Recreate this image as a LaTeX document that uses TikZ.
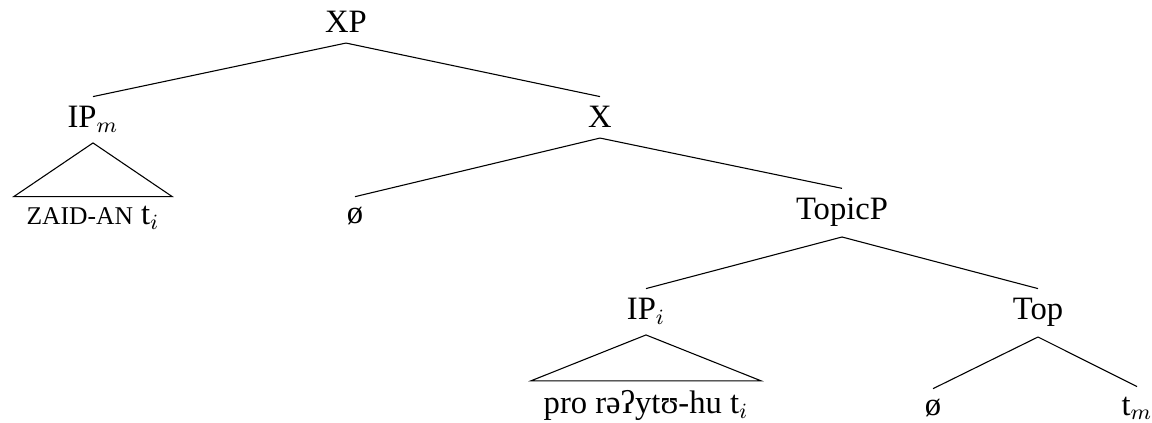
\documentclass[tikz,border=0pt]{standalone}
\usepackage{fontspec}
\setmainfont{Liberation Serif}
\begin{document}
\begin{tikzpicture}[x=0.368pt, y=-0.368pt, font=\fontsize{12}{14}\selectfont,
  lbl/.style={anchor=base, inner sep=3.5pt},
  roof/.style={anchor=base, inner xsep=4.5pt, inner ysep=3.5pt}]
\useasboundingbox (0,0) rectangle (1152,423);
\node[lbl] (xp) at (346,33) {XP};
\node[lbl] (ipm) at (93,128) {IP$_m$};
\node[lbl] (x) at (600,128) {X};
\node[roof] (zaid) at (93,225) {{\fontsize{9.4}{11}\selectfont ZAID-AN} t$_i$};
\node[lbl] (nulla) at (355,223) {ø};
\node[lbl] (topicp) at (842,220) {TopicP};
\node[lbl] (ipi) at (646,320) {IP$_i$};
\node[lbl] (top) at (1038,320) {Top};
\node[roof] (pro) at (646,414) {pro rəʔytʊ-hu t$_i$};
\node[lbl] (nullb) at (933,415) {ø};
\node[lbl] (tm) at (1137,415) {t$_m$};
\draw (xp.south) -- (ipm.north);
\draw (xp.south) -- (x.north);
\draw (ipm.south) -- (zaid.north west) -- (zaid.north east) -- cycle;
\draw (x.south) -- (nulla.north);
\draw (x.south) -- (topicp.north);
\draw (topicp.south) -- (ipi.north);
\draw (topicp.south) -- (top.north);
\draw (ipi.south) -- (pro.north west) -- (pro.north east) -- cycle;
\draw (top.south) -- (nullb.north);
\draw (top.south) -- (tm.north);
\end{tikzpicture}
\end{document}
